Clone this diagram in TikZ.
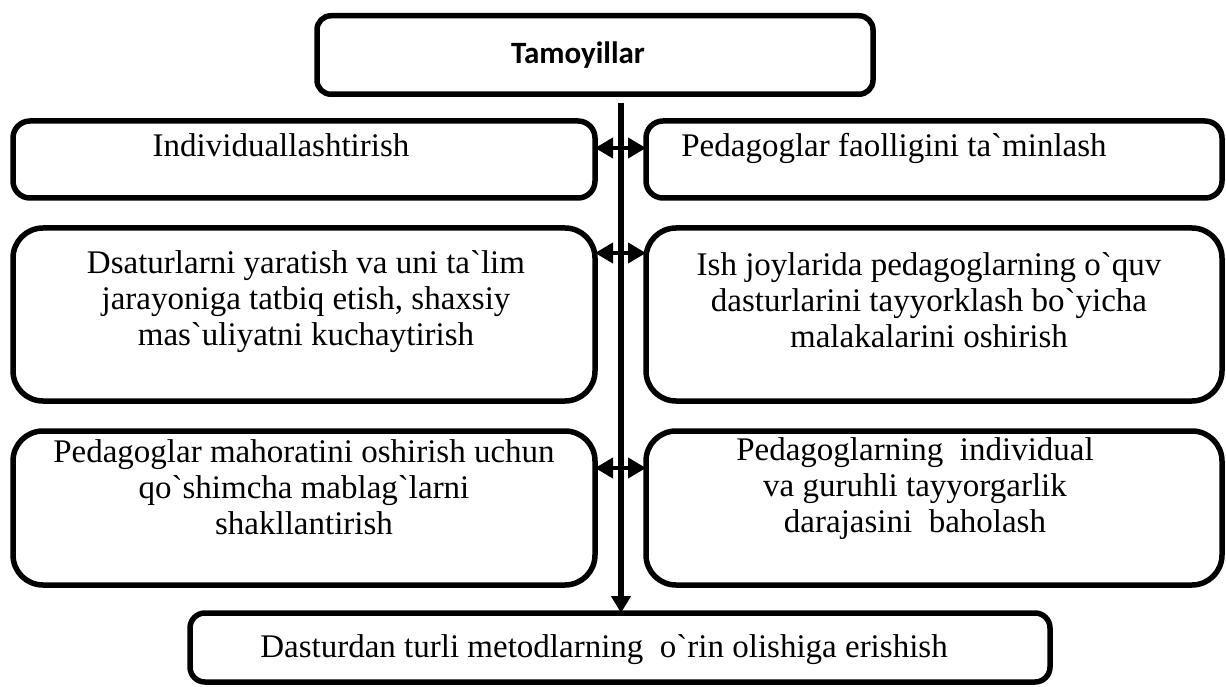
\documentclass[tikz,border=0pt]{standalone}
\usepackage{fontspec}
\setmainfont{Liberation Serif}[Ligatures=TeXOff]
\newfontfamily\titlefont{Carlito}
\usetikzlibrary{arrows.meta}
\tikzset{
  box/.style={draw, line width=5.5pt, rounded corners=#1, inner sep=0pt, outer sep=0pt},
  box/.default=15pt,
  txt/.style={inner sep=0pt, align=center, font=\fontsize{33}{36}\selectfont},
  dbl/.style={line width=4pt, {Triangle[length=18pt,width=20pt]}-{Triangle[length=18pt,width=20pt]}},
  vline/.style={line width=5.5pt, -{Triangle[length=17pt,width=19pt]}}
}
\begin{document}
\begin{tikzpicture}[x=1pt,y=-1pt]
\useasboundingbox (0,0) rectangle (1226,687);
% boxes
\node[box=14pt, minimum width=556pt, minimum height=78.5pt] (top) at (595,55) {};
\node[box=17pt, minimum width=582pt, minimum height=77pt] (L1) at (304,159.5) {};
\node[box=17pt, minimum width=576pt, minimum height=77pt] (R1) at (934,159.5) {};
\node[box=30pt, minimum width=582pt, minimum height=173pt] (L2) at (304,314.5) {};
\node[box=30pt, minimum width=576pt, minimum height=173pt] (R2) at (934,314.5) {};
\node[box=30pt, minimum width=582pt, minimum height=154pt] (L3) at (304,508) {};
\node[box=30pt, minimum width=576pt, minimum height=154pt] (R3) at (934,508) {};
\node[box=15pt, minimum width=860pt, minimum height=69pt] (bot) at (620,647.5) {};
% texts
\node[txt, anchor=base, font=\fontsize{31}{36}\selectfont\titlefont\bfseries] (t0) at (578,64) {Tamoyillar};
\node[txt, anchor=base] (tL1) at (281,157) {Individuallashtirish};
\node[txt, anchor=base] (tR1) at (894,157) {Pedagoglar faolligini ta`minlash};
\node[txt] (tL2) at (306,302) {Dsaturlarni yaratish va uni ta`lim\\jarayoniga tatbiq etish, shaxsiy\\mas`uliyatni kuchaytirish};
\node[txt] (tR2) at (929,300) {Ish joylarida pedagoglarning o`quv\\dasturlarini tayyorklash bo`yicha\\malakalarini oshirish};
\node[txt] (tL3) at (304,487) {Pedagoglar mahoratini oshirish uchun\\qo`shimcha mablag`larni\\shakllantirish};
\node[txt] (tR3) at (915,489) {Pedagoglarning\ \ individual\\va guruhli tayyorgarlik\\darajasini\ \ baholash};
\node[txt, anchor=base] (tB) at (604,657) {Dasturdan turli metodlarning\ \ o`rin olishiga erishish};
% connectors
\coordinate (vs) at (621,103);
\draw[vline] (vs) -- (vs |- bot.north);
\draw[dbl] ([yshift=11.5pt]L1.east) -- ([yshift=11.5pt]R1.west);
\draw[dbl] ([yshift=61.5pt]L2.east) -- ([yshift=61.5pt]R2.west);
\draw[dbl] ([yshift=40pt]L3.east) -- ([yshift=40pt]R3.west);
\end{tikzpicture}
\end{document}
